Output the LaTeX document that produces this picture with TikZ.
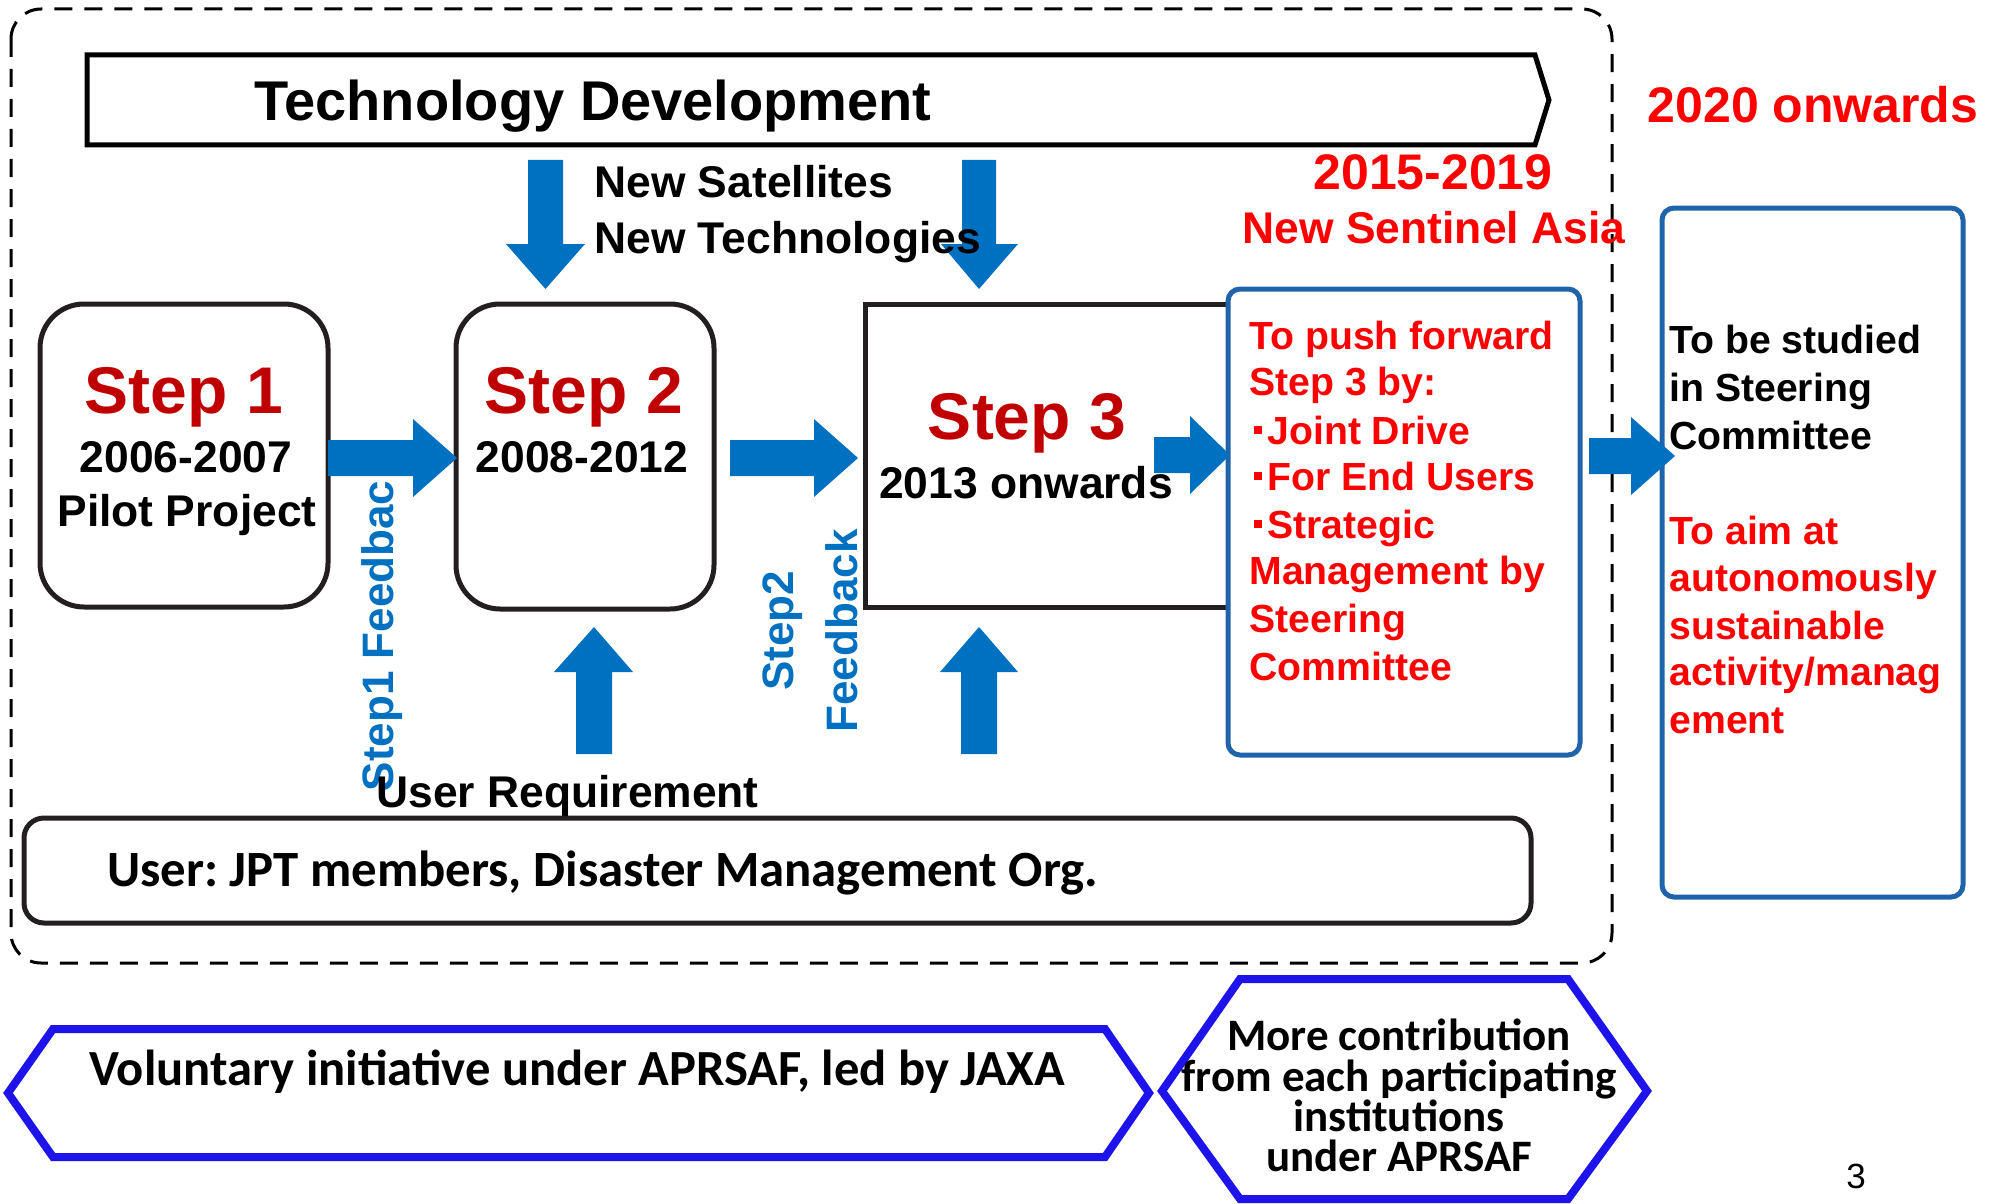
\documentclass[tikz,border=0pt]{standalone}
\usepackage{fontspec}
\setmainfont{Liberation Sans}
\newfontfamily\calibri{Carlito}
\frenchspacing
\definecolor{arrowblue}{HTML}{0070C0}
\definecolor{stepred}{HTML}{C00000}
\definecolor{txtred}{HTML}{FF0000}
\definecolor{boxblue}{RGB}{31,100,170}
\definecolor{hexblue}{RGB}{30,20,235}
\definecolor{darkline}{HTML}{231F20}
\newcommand\rightblock[4]{\fill[arrowblue] (#1,#4-18) -- (#2,#4-18) -- (#2,#4-39) -- (#3,#4) -- (#2,#4+39) -- (#2,#4+18) -- (#1,#4+18) -- cycle;}
\newcommand\sqbullet{\kern2.5pt\raisebox{5pt}{\rule{4pt}{4pt}}\kern2.5pt}
\tikzset{
  txt/.style={inner sep=0pt, font=\bfseries},
  big/.style={txt, font=\fontsize{22.2}{26}\selectfont\bfseries},
  steptitle/.style={txt, text=stepred, font=\fontsize{33}{38}\selectfont\bfseries},
  redline/.style={txt, text=txtred, anchor=base west, font=\fontsize{19.6}{23}\selectfont\bfseries},
  blackline/.style={txt, text=black, anchor=base west, font=\fontsize{19.6}{23}\selectfont\bfseries},
  fbtext/.style={txt, text=arrowblue, anchor=base, rotate=90, font=\fontsize{22}{26}\selectfont\bfseries},
  calib/.style={inner sep=0pt, font=\calibri\bfseries},
  stepframe/.style={draw=darkline, line width=2.5pt},
  blueframe/.style={draw=boxblue, line width=2.5pt, fill=white, rounded corners=6pt},
  hexframe/.style={draw=hexblue, line width=4pt, line join=miter},
}
\begin{document}
\begin{tikzpicture}[x=0.5pt,y=-0.5pt]
\useasboundingbox (0,0) rectangle (1997,1204);
% outer dashed frame
\draw[dash pattern=on 9pt off 6pt, line width=1.5pt, rounded corners=15pt] (11,9) rectangle (1612,963);
% technology development bar
\draw[line width=2.5pt, line join=miter] (87,55) -- (1535,55) -- (1549,100) -- (1535,145) -- (87,145) -- cycle;
\node[txt, anchor=base, font=\fontsize{28}{32}\selectfont\bfseries] (techdev) at (593,120) {Technology Development};
% step boxes
\draw[stepframe, rounded corners=22pt] (40,304) rectangle (328,607);
\draw[stepframe, rounded corners=22pt] (456,304) rectangle (714,609);
\draw[stepframe] (865,304) rectangle (1240,607);
% new sentinel asia box
\draw[blueframe] (1228,289) rectangle (1580,755);
% 2020 box
\draw[blueframe] (1662,208) rectangle (1963,897);
% user box
\draw[stepframe, rounded corners=10pt] (24,818) rectangle (1531,923);
% down arrows
\fill[arrowblue] (528,160) -- (563,160) -- (563,244) -- (585,244) -- (545.5,289) -- (506,244) -- (528,244) -- cycle;
\fill[arrowblue] (962,160) -- (996,160) -- (996,244) -- (1018,244) -- (979,289) -- (941,244) -- (962,244) -- cycle;
% up arrows
\fill[arrowblue] (576,754) -- (612,754) -- (612,672) -- (633,672) -- (594,627) -- (554,672) -- (576,672) -- cycle;
\fill[arrowblue] (961,754) -- (997,754) -- (997,672) -- (1018,672) -- (979,627) -- (940,672) -- (961,672) -- cycle;
% right arrows
\rightblock{328}{413}{457}{458}
\rightblock{730}{814}{858}{458}
\rightblock{1154}{1190}{1230}{455}
\rightblock{1589}{1631}{1675}{456}
% labels
\node[big, anchor=base west] (newsat) at (594,198) {New Satellites};
\node[big, anchor=base west] (newtech) at (594,253) {New Technologies};
\node[steptitle, anchor=base] (s1) at (184,413) {Step 1};
\node[big, anchor=base] (s1y) at (186,472) {2006-2007};
\node[big, anchor=base] (s1p) at (187,526) {Pilot Project};
\node[steptitle, anchor=base] (s2) at (584,413) {Step 2};
\node[big, anchor=base] (s2y) at (582,472) {2008-2012};
\node[steptitle, anchor=base] (s3) at (1027,439) {Step 3};
\node[big, anchor=base] (s3y) at (1026,498) {2013 onwards};
\node[txt, anchor=base, text=txtred, font=\fontsize{25}{29}\selectfont\bfseries] (y1519) at (1433,189) {2015-2019};
\node[big, anchor=base, text=txtred] (nsa) at (1434,243) {New Sentinel Asia};
\node[txt, anchor=base, text=txtred, font=\fontsize{25}{29}\selectfont\bfseries] (y2020) at (1813,123) {2020 onwards};
% red lines in box 1
\node[redline] (b1) at (1249,349) {To push forward};
\node[redline] (b2) at (1249,395) {Step 3 by:};
\node[redline] (b3) at (1249,444) {\sqbullet Joint Drive};
\node[redline] (b4) at (1249,490) {\sqbullet For End Users};
\node[redline] (b5) at (1249,538) {\sqbullet Strategic};
\node[redline] (b6) at (1249,584) {Management by};
\node[redline] (b7) at (1249,632) {Steering};
\node[redline] (b8) at (1249,680) {Committee};
% box 2
\node[blackline] (c1) at (1669,353) {To be studied};
\node[blackline] (c2) at (1669,401) {in Steering};
\node[blackline] (c3) at (1669,449) {Committee};
\node[redline] (c4) at (1669,544) {To aim at};
\node[redline] (c5) at (1669,591) {autonomously};
\node[redline] (c6) at (1669,639) {sustainable};
\node[redline] (c7) at (1669,685) {activity/manag};
\node[redline] (c8) at (1669,733) {ement};
% feedback labels
\node[fbtext] (fb1) at (393,636) {Step1 Feedbac};
\node[fbtext] (fb2a) at (793,631) {Step2};
\node[fbtext] (fb2b) at (857,631) {Feedback};
\node[big, anchor=base west] (ureq) at (376,807) {User Requirement};
\node[calib, anchor=base west, font=\fontsize{25.4}{29}\selectfont\calibri\bfseries] (user) at (107,886) {User: JPT members, Disaster Management Org.};
% bottom hexagons
\draw[hexframe] (8,1093) -- (53,1029) -- (1105,1029) -- (1149,1093) -- (1105,1157) -- (53,1157) -- cycle;
\node[calib, anchor=base west, font=\fontsize{25.3}{29}\selectfont\calibri\bfseries] (volun) at (89,1085) {Voluntary initiative under APRSAF, led by JAXA};
\draw[hexframe] (1162,1091) -- (1240,979) -- (1568,979) -- (1647,1091) -- (1568,1199) -- (1240,1199) -- cycle;
\node[calib, anchor=base, font=\fontsize{22.5}{26}\selectfont\calibri\bfseries] (m1) at (1399,1050) {More contribution};
\node[calib, anchor=base, font=\fontsize{22.5}{26}\selectfont\calibri\bfseries] (m2) at (1399,1091) {from each participating};
\node[calib, anchor=base, font=\fontsize{22.5}{26}\selectfont\calibri\bfseries] (m3) at (1399,1131) {institutions};
\node[calib, anchor=base, font=\fontsize{22.5}{26}\selectfont\calibri\bfseries] (m4) at (1399,1171) {under APRSAF};
\node[inner sep=0pt, anchor=base, font=\fontsize{17.5}{20}\selectfont] (pg) at (1856,1188) {3};
\end{tikzpicture}
\end{document}
